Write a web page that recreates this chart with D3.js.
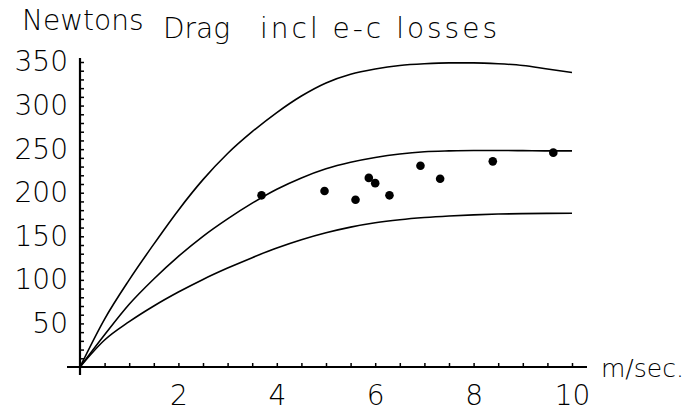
<!DOCTYPE html>
<html><head><meta charset="utf-8">
<script src="https://cdn.jsdelivr.net/npm/d3@7/dist/d3.min.js"></script>
<style>
body{margin:0;background:#fff}
svg{display:block}
text{font-family:"DejaVu Sans",Verdana,sans-serif;font-size:28px;fill:#000;font-weight:200}
</style>
</head><body><svg id="c" width="689" height="411"></svg>
<script>
const speeds     = [0,0.5,1,1.5,2,2.5,3,3.5,4,4.5,5,5.5,6,6.5,7,7.5,8,8.5,9,9.5,10];
const upperDrag  = [0,55,100,141,180,215,245,270,292,311,326,336,342,346,348,349,349,348,346,342,338];
const middleDrag = [0,37,72,101,127,150,170,188,204,217,227.5,235,240.5,244.5,247,248,248.5,248.5,248.3,248,248];
const lowerDrag  = [0,31,52,70,86,100.5,113.5,125.5,136.5,146,154,160.5,165.5,169,171.5,173.3,174.6,175.5,176,176.3,176.5];
const measuredSpeed = [3.69,4.97,5.60,5.87,6.00,6.29,6.92,7.32,8.39,9.62];
const measuredDrag  = [197,202,192,217,211,197,231,216,236,246];
const xTickLabels = [2,4,6,8,10];
const yTickLabels = [50,100,150,200,250,300,350];
const xMinorTicks = d3.range(0.5,10.001,0.5);
const yMinorTicks = d3.range(10,350.001,10);

const svg = d3.select("#c");
const x = d3.scaleLinear().domain([0,10]).range([80,572]);
const y = d3.scaleLinear().domain([0,350]).range([367,62]);

// axis lines
svg.append("line").attr("x1",x(0)-13).attr("x2",x(10)+15).attr("y1",y(0)).attr("y2",y(0))
  .attr("stroke","#000").attr("stroke-width",2.2);
svg.append("line").attr("x1",x(0)).attr("x2",x(0)).attr("y1",y(350)-4).attr("y2",y(0)+8)
  .attr("stroke","#000").attr("stroke-width",2.2);

// minor ticks
const xt = svg.append("g").attr("transform",`translate(0,${y(0)})`)
  .call(d3.axisTop(x).tickValues(xMinorTicks).tickSize(4).tickFormat(""));
xt.select(".domain").remove();
xt.selectAll("line").attr("stroke-width",1.5);
const yt = svg.append("g").attr("transform",`translate(${x(0)},0)`)
  .call(d3.axisRight(y).tickValues(yMinorTicks).tickSize(4).tickFormat(""));
yt.select(".domain").remove();
yt.selectAll("line").attr("stroke-width",1.5);

// labels
const xl = svg.append("g").attr("transform",`translate(0,${y(0)})`)
  .call(d3.axisBottom(x).tickValues(xTickLabels).tickSize(0).tickPadding(18).tickFormat(d3.format("d")));
xl.select(".domain").remove();
xl.selectAll("text").attr("font-size",28).attr("font-family",null).attr("fill","#000");
const yl = svg.append("g").attr("transform",`translate(${x(0)},0)`)
  .call(d3.axisLeft(y).tickValues(yTickLabels).tickSize(0).tickPadding(12).tickFormat(d3.format("d")));
yl.select(".domain").remove();
yl.selectAll("text").attr("font-size",28).attr("font-family",null).attr("fill","#000");

// curves
const line = d3.line().x(d=>x(d[0])).y(d=>y(d[1])).curve(d3.curveMonotoneX);
[upperDrag, middleDrag, lowerDrag].forEach(s=>{
  svg.append("path").datum(speeds.map((v,i)=>[v,s[i]]))
    .attr("d",line).attr("fill","none").attr("stroke","#000").attr("stroke-width",1.6);
});

// measured points
svg.append("g").selectAll("circle").data(measuredSpeed.map((v,i)=>[v,measuredDrag[i]]))
  .join("circle").attr("cx",d=>x(d[0])).attr("cy",d=>y(d[1])).attr("r",4.3).attr("fill","#000");

// titles
svg.append("text").attr("x",22).attr("y",30).text("Newtons");
svg.append("text").attr("x",163).attr("y",38).text("Drag");
svg.append("text").attr("x",260).attr("y",38).attr("textLength",237).attr("lengthAdjust","spacing").text("incl e-c losses");
svg.append("text").attr("x",601).attr("y",377).style("font-size","25px").text("m/sec.");
</script>
</body></html>
